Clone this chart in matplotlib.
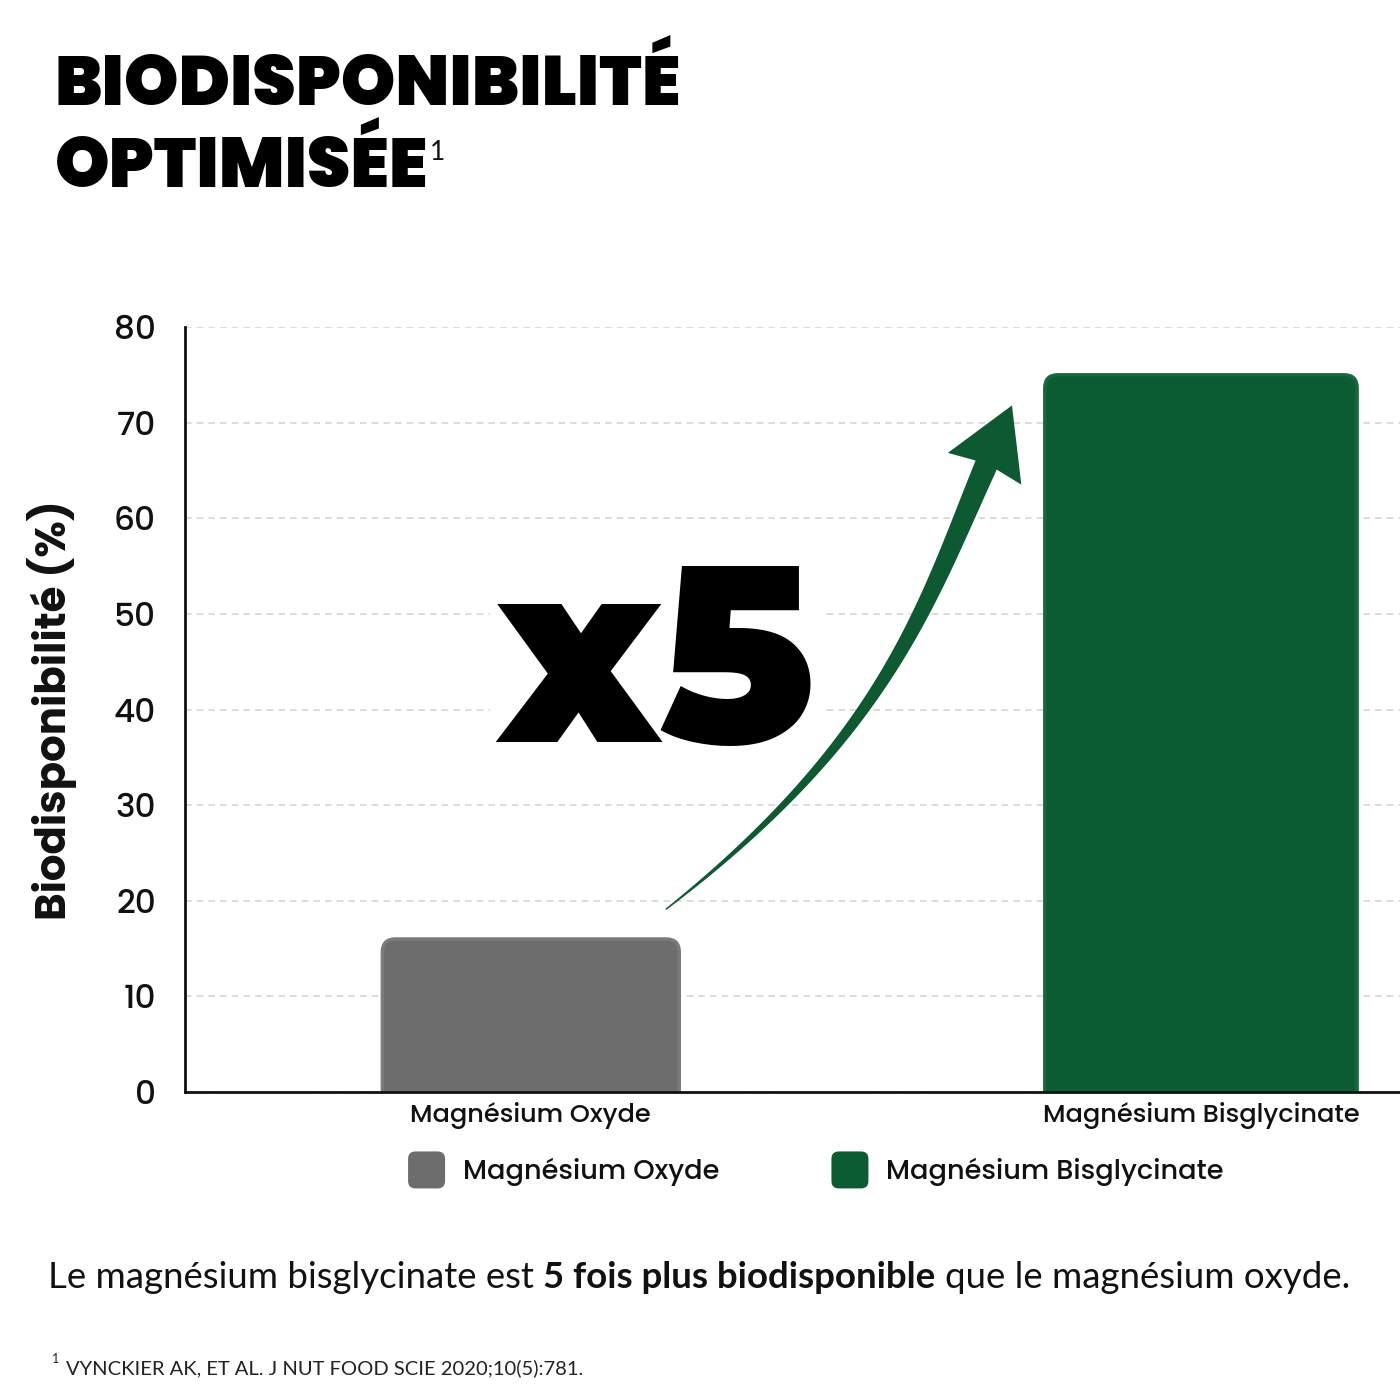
import numpy as np
import matplotlib
matplotlib.use("Agg")
import matplotlib.pyplot as plt
from matplotlib.patches import FancyBboxPatch, Polygon, Patch
from matplotlib.legend_handler import HandlerPatch

# ---- data ----
categories = ["Magnésium Oxyde", "Magnésium Bisglycinate"]
values = [16, 75]
bar_colors = ["#6d6d6d", "#0b5c33"]
yticks = [0, 10, 20, 30, 40, 50, 60, 70, 80]
ylabel = "Biodisponibilité (%)"
title_lines = ["BIODISPONIBILITÉ", "OPTIMISÉE"]
multiplier = "x5"
sentence = ["Le magnésium bisglycinate est", "5 fois plus biodisponible", "que le magnésium oxyde."]
footnote = "VYNCKIER AK, ET AL. J NUT FOOD SCIE 2020;10(5):781."

HEAVY = "Montserrat Alternates"
TITLE = "Poppins"
LAB = "Poppins"
BODY = "Lato"

W = H = 1400
fig = plt.figure(figsize=(14, 14), dpi=100)
fig.patch.set_facecolor("white")
r = fig.canvas.get_renderer()


def fit(t, target, rot=False):
    bb = t.get_window_extent(r)
    w = bb.height if rot else bb.width
    t.set_fontsize(t.get_fontsize() * target / w)


def measure(s, **kw):
    tt = fig.text(0, 0, s, **kw)
    w = tt.get_window_extent(r).width
    tt.remove()
    return w


ax = fig.add_axes([185 / W, 1 - 1092 / H, 1 - 185 / W, (1092 - 327) / H])
ax.set_xlim(-0.516, 1.297)
ax.set_ylim(0, 80)

x = np.arange(len(categories))
widths = [0.443, 0.466]
bars = ax.bar(x, values, width=widths, color=bar_colors)

# rounded bars
fig.canvas.draw()
T = ax.transData
px_x = T.transform((1, 0))[0] - T.transform((0, 0))[0]
px_y = T.transform((0, 1))[1] - T.transform((0, 0))[1]
aspect = px_x / px_y
r_px = 13
edge_cols = ["#7b7b7b", "#15693d"]
for b, c, ec in zip(bars, bar_colors, edge_cols):
    b.set_visible(False)
    rx = r_px / px_x
    ry = r_px / px_y
    p = FancyBboxPatch((b.get_x(), -ry), b.get_width(), b.get_height() + ry,
                       boxstyle=f"round,pad=0,rounding_size={rx}",
                       mutation_aspect=aspect, fc=c, ec=ec, lw=2.5, zorder=2)
    ax.add_patch(p)

ax.set_yticks(yticks)
ax.yaxis.grid(True, linestyle=(0, (4, 3)), color="#d6d6d6", linewidth=1.2)
ax.set_axisbelow(True)
for s in ["top", "right"]:
    ax.spines[s].set_visible(False)
for s in ["left", "bottom"]:
    ax.spines[s].set_linewidth(2)
    ax.spines[s].set_color("#111111")
    ax.spines[s].set_zorder(5)

# label sizes fitted to reference widths
xt_size = 20 * 241 / measure(categories[0], family=LAB, fontweight=500, fontsize=20)
yt_size = 20 * 42 / measure("80", family=LAB, fontweight=500, fontsize=20)
ax.tick_params(axis="y", length=0, pad=21, labelsize=yt_size, labelcolor="#111111")
ax.tick_params(axis="x", length=0, pad=7, labelsize=xt_size, labelcolor="#111111")
ax.set_xticks(x)
ax.set_xticklabels(categories)
for lab in ax.get_yticklabels() + ax.get_xticklabels():
    lab.set_fontfamily(LAB)
    lab.set_fontweight(500)

# big multiplier text
tx = ax.text(0.187, 36.6, multiplier, fontsize=190, fontweight=900, family=HEAVY,
             ha="center", va="baseline", zorder=3,
             bbox=dict(fc="white", ec="none", pad=6))
fit(tx, 318)


# tapered curved arrow
def tapered_arrow(ax, start, tip, color):
    T = ax.transData
    p0 = np.array(T.transform(start))
    ptip = np.array(T.transform(tip))
    u = np.array([0.397, 0.918]); u /= np.linalg.norm(u)
    d0 = np.array([0.789, 0.615]); d0 /= np.linalg.norm(d0)
    head_len, head_w, shaft_w = 65, 80, 23
    p3 = ptip - head_len * u
    p1 = p0 + 280 * d0
    p2 = p3 - 150 * u
    t = np.linspace(0, 1, 120)[:, None]
    B = (1 - t) ** 3 * p0 + 3 * (1 - t) ** 2 * t * p1 + 3 * (1 - t) * t ** 2 * p2 + t ** 3 * p3
    dB = 3 * (1 - t) ** 2 * (p1 - p0) + 6 * (1 - t) * t * (p2 - p1) + 3 * t ** 2 * (p3 - p2)
    tan = dB / np.linalg.norm(dB, axis=1)[:, None]
    nrm = np.column_stack([-tan[:, 1], tan[:, 0]])
    w = shaft_w * (0.06 + 0.94 * t ** 0.9)
    left = B + nrm * w / 2
    right = B - nrm * w / 2
    nperp = np.array([-u[1], u[0]])
    barb_l = p3 + nperp * head_w / 2 - u * 4
    barb_r = p3 - nperp * head_w / 2 - u * 4
    verts = np.vstack([left, [barb_l, ptip, barb_r], right[::-1]])
    verts = T.inverted().transform(verts)
    ax.add_patch(Polygon(verts, closed=True, fc=color, ec="none", zorder=4, clip_on=False))


tapered_arrow(ax, (0.2015, 19.1), (0.718, 71.8), "#0d5a32")

# y label
yl = fig.text(52 / W, 1 - 710 / H, ylabel, rotation=90, ha="center", va="center",
              fontsize=32, fontweight="bold", family=LAB, color="#111111")
fit(yl, 420, rot=True)


# legend with rounded squares
class RoundHandler(HandlerPatch):
    def create_artists(self, legend, orig_handle, xdescent, ydescent, width, height, fontsize, trans):
        s = width
        p = FancyBboxPatch((-xdescent, -ydescent + (height - s) / 2), s, s,
                           boxstyle=f"round,pad=0,rounding_size={s*0.2}",
                           fc=orig_handle.get_facecolor(), ec="none", transform=trans)
        return [p]


lg_size = 20 * 257 / measure(categories[0], family=LAB, fontweight=500, fontsize=20)
fpx = lg_size * 100 / 72
handles = [Patch(fc=c) for c in bar_colors]
leg = fig.legend(handles, categories, loc="center", bbox_to_anchor=(816 / W, 1 - 1172 / H),
                 ncol=2, frameon=False, handler_map={Patch: RoundHandler()},
                 handlelength=37 / fpx, handleheight=1.0, handletextpad=18 / fpx,
                 columnspacing=112 / fpx, borderpad=0, borderaxespad=0,
                 prop={"family": LAB, "weight": 500, "size": lg_size})
for t in leg.get_texts():
    t.set_color("#111111")

# title
t1 = fig.text(55 / W, 1 - 105 / H, title_lines[0], fontsize=49, fontweight=900, family=TITLE,
              va="baseline", ha="left")
fit(t1, 625)
t2 = fig.text(55 / W, 1 - 187 / H, title_lines[1], fontsize=t1.get_fontsize(), fontweight=900,
              family=TITLE, va="baseline", ha="left")
bb = t2.get_window_extent(r)
fig.text((bb.x1 + 2) / W, 1 - 160 / H, "1", fontsize=19, family=BODY, fontweight="normal",
         va="baseline", ha="left", color="#111111")

# sentence with bold part
def draw_sentence(size):
    kw_norm = dict(fontsize=size, family=BODY, fontweight="normal")
    kw_bold = dict(fontsize=size, family=BODY, fontweight="bold")
    space = measure("a a", **kw_norm) - measure("aa", **kw_norm)
    xcur = 48
    ybase = 1 - 1288 / H
    arts = []
    for i, part in enumerate(sentence):
        kw = kw_bold if i == 1 else kw_norm
        tt = fig.text(xcur / W, ybase, part, va="baseline", ha="left", color="#111111", **kw)
        arts.append(tt)
        xcur = tt.get_window_extent(r).x1 + space
    return arts, tt.get_window_extent(r).x1 - 48

arts, tw = draw_sentence(27)
for a in arts:
    a.remove()
draw_sentence(27 * 1304 / tw)

# footnote
fig.text(52 / W, 1 - 1363 / H, "1", fontsize=9, family=BODY, va="baseline", color="#222222")
fn = fig.text(66 / W, 1 - 1374 / H, footnote, fontsize=14, family=BODY, va="baseline", color="#222222")
fit(fn, 517)

fig.savefig("out.png", dpi=100, facecolor="white")
